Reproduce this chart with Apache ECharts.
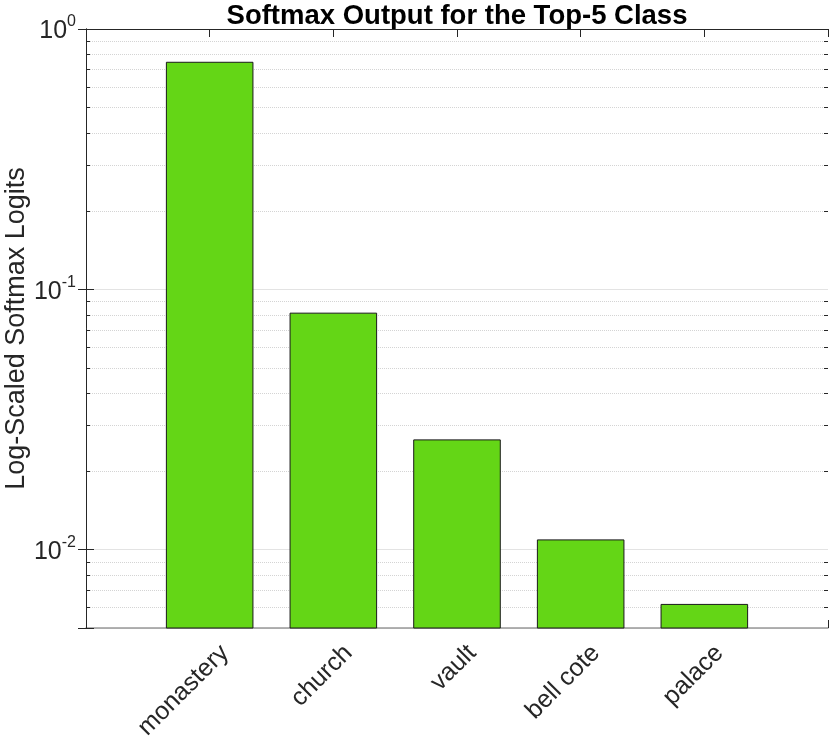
<!DOCTYPE html>
<html>
<head>
<meta charset="utf-8">
<script src="https://cdn.jsdelivr.net/npm/echarts@6/dist/echarts.min.js"></script>
<style>
  html, body { margin: 0; padding: 0; background: #fff; }
  #chart { width: 830px; height: 737px; }
</style>
</head>
<body>
<div id="chart"></div>
<script>
var categories = ['monastery', 'church', 'vault', 'bell cote', 'palace'];
var softmaxValues = [0.745, 0.081, 0.0264, 0.0109, 0.00616];
// minor log grid lines (2..9 x 10^k) inside the y range
var minorTicks = [0.006, 0.007, 0.008, 0.009,
    0.02, 0.03, 0.04, 0.05, 0.06, 0.07, 0.08, 0.09,
    0.2, 0.3, 0.4, 0.5, 0.6, 0.7, 0.8, 0.9];

var yMin = 0.005, yMax = 1;
var barFrac = 0.7;
var axisColor = '#262626';
var fontFam = '"Liberation Sans", Arial, sans-serif';

var chart = echarts.init(document.getElementById('chart'));

function powLabel(v) {
    var e = Math.log10(v);
    var r = Math.round(e);
    if (Math.abs(e - r) > 1e-6) return '';
    return '{b|10}{s|' + r + '}';
}

var option = {
    animation: false,
    grid: { left: 86, right: 2, top: 29, bottom: 109, containLabel: false, outerBoundsMode: 'none' },
    graphic: [{
        type: 'text',
        x: 457,
        y: 2,
        style: {
            text: 'Softmax Output for the Top-5 Class',
            font: 'bold 27.5px ' + fontFam,
            fill: '#000',
            textAlign: 'center',
            textVerticalAlign: 'top'
        }
    }],
    xAxis: [{
        type: 'value',
        min: 0, max: 6, interval: 1,
        position: 'bottom',
        axisLine: { show: true, lineStyle: { color: '#999999', width: 1.5 } },
        axisTick: { show: true, inside: true, length: 8, lineStyle: { color: axisColor } },
        splitLine: { show: false },
        axisLabel: {
            rotate: 45,
            margin: 6,
            fontSize: 25,
            fontFamily: fontFam,
            color: axisColor,
            verticalAlign: 'top',
            padding: [9, 0, 0, 0],
            formatter: function (v) { return categories[v - 1] || ''; }
        }
    }, {
        type: 'value',
        min: 0, max: 6, interval: 1,
        position: 'top',
        axisLine: { show: true, lineStyle: { color: axisColor } },
        axisTick: { show: true, inside: true, length: 8, lineStyle: { color: axisColor } },
        splitLine: { show: false },
        axisLabel: { show: false }
    }],
    yAxis: [{
        type: 'log',
        logBase: 10,
        min: yMin, max: yMax,
        position: 'left',
        name: 'Log-Scaled Softmax Logits',
        nameLocation: 'middle',
        nameGap: 56,
        nameMoveOverlap: false,
        nameTextStyle: { fontSize: 27, color: axisColor, fontFamily: fontFam },
        axisLine: { show: true, lineStyle: { color: axisColor } },
        axisTick: { show: true, inside: true, length: 8, lineStyle: { color: axisColor } },
        splitLine: { show: true, lineStyle: { color: '#e3e3e3', width: 1 } },
        axisLabel: {
            margin: 10,
            color: axisColor,
            formatter: powLabel,
            rich: {
                b: { fontSize: 25, fontFamily: fontFam, color: axisColor, lineHeight: 30, verticalAlign: 'bottom' },
                s: { fontSize: 16, fontFamily: fontFam, color: axisColor, verticalAlign: 'top', lineHeight: 30 }
            }
        }
    }, {
        type: 'log',
        logBase: 10,
        min: yMin, max: yMax,
        position: 'right',
        axisLine: { show: true, lineStyle: { color: axisColor } },
        axisTick: { show: true, inside: true, length: 8, lineStyle: { color: axisColor } },
        splitLine: { show: false },
        axisLabel: { show: false }
    }],
    series: [{
        type: 'custom',
        xAxisIndex: 0,
        yAxisIndex: 0,
        z: 1,
        silent: true,
        data: minorTicks.map(function (v) { return [0, v]; }),
        renderItem: function (params, api) {
            var cs = params.coordSys;
            var y = Math.round(api.coord([0, api.value(1)])[1]) + 0.5;
            var x0 = cs.x, x1 = cs.x + cs.width;
            return {
                type: 'group',
                children: [{
                    type: 'line',
                    shape: { x1: x0, y1: y, x2: x1, y2: y },
                    style: { stroke: '#d4d4d4', lineWidth: 1, lineDash: [1, 1] }
                }, {
                    type: 'line',
                    shape: { x1: x0, y1: y, x2: x0 + 4, y2: y },
                    style: { stroke: axisColor, lineWidth: 1 }
                }, {
                    type: 'line',
                    shape: { x1: x1 - 4, y1: y, x2: x1, y2: y },
                    style: { stroke: axisColor, lineWidth: 1 }
                }]
            };
        }
    }, {
        type: 'custom',
        xAxisIndex: 0,
        yAxisIndex: 0,
        z: 2,
        data: categories.map(function (c, i) { return [i + 1, softmaxValues[i]]; }),
        renderItem: function (params, api) {
            var x = api.value(0), v = api.value(1);
            var p0 = api.coord([x - barFrac / 2, v]);
            var p1 = api.coord([x + barFrac / 2, yMin]);
            return {
                type: 'rect',
                shape: { x: p0[0], y: p0[1], width: p1[0] - p0[0], height: p1[1] - p0[1] },
                style: { fill: '#64D616', stroke: '#1a1a1a', lineWidth: 1 }
            };
        }
    }]
};

chart.setOption(option);
</script>
</body>
</html>
